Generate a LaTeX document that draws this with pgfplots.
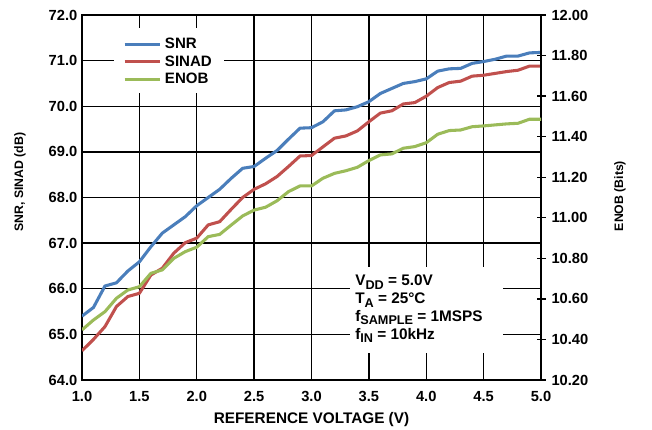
\documentclass[border=0pt]{standalone}
\usepackage{fontspec}
\setmainfont{Liberation Sans}
\usepackage{pgfplots}
\usepackage{pgfplotstable}
\pgfplotsset{compat=1.18}

\definecolor{snrblue}{RGB}{74,126,187}
\definecolor{sinadred}{RGB}{192,80,77}
\definecolor{enobgreen}{RGB}{155,187,89}

% lowered, smaller subscript in the text font
\newcommand\sub[1]{\raisebox{-0.45ex}{\fontsize{9.5}{9.5}\selectfont #1}}

% SNR and SINAD (dB) against reference voltage (V)
\pgfplotstableread{
v   snr   sinad
1.0 65.40 64.64
1.1 65.59 64.89
1.2 66.06 65.17
1.3 66.13 65.61
1.4 66.39 65.83
1.5 66.59 65.90
1.6 66.92 66.30
1.7 67.22 66.45
1.8 67.40 66.78
1.9 67.58 67.01
2.0 67.82 67.11
2.1 68.00 67.40
2.2 68.18 67.47
2.3 68.42 67.74
2.4 68.64 68.00
2.5 68.68 68.18
2.6 68.86 68.30
2.7 69.03 68.46
2.8 69.28 68.68
2.9 69.52 68.91
3.0 69.53 68.92
3.1 69.66 69.11
3.2 69.90 69.30
3.3 69.92 69.35
3.4 69.99 69.46
3.5 70.10 69.66
3.6 70.28 69.85
3.7 70.39 69.90
3.8 70.50 70.05
3.9 70.54 70.08
4.0 70.60 70.22
4.1 70.77 70.41
4.2 70.82 70.52
4.3 70.83 70.55
4.4 70.94 70.66
4.5 70.98 70.68
4.6 71.03 70.72
4.7 71.10 70.76
4.8 71.10 70.79
4.9 71.17 70.88
5.0 71.18 70.88
}\dbdata

% ENOB (bits) against reference voltage (V)
\pgfplotstableread{
v   enob
1.0 10.447
1.1 10.496
1.2 10.537
1.3 10.603
1.4 10.644
1.5 10.660
1.6 10.726
1.7 10.743
1.8 10.800
1.9 10.833
2.0 10.855
2.1 10.907
2.2 10.918
2.3 10.964
2.4 11.009
2.5 11.038
2.6 11.052
2.7 11.084
2.8 11.129
2.9 11.157
3.0 11.157
3.1 11.195
3.2 11.219
3.3 11.232
3.4 11.249
3.5 11.282
3.6 11.310
3.7 11.315
3.8 11.343
3.9 11.351
4.0 11.370
4.1 11.412
4.2 11.430
4.3 11.433
4.4 11.449
4.5 11.453
4.6 11.458
4.7 11.463
4.8 11.466
4.9 11.486
5.0 11.486
}\enobdata

\pgfplotsset{
  refbase/.style={
    scale only axis, width=344.25pt, height=273.75pt,
    at={(0,0)}, anchor=south west,
    xmin=1, xmax=5,
    /pgf/number format/assume math mode=true,
    ticklabel style={font=\fontsize{11}{13}\selectfont\bfseries},
    label style={font=\fontsize{9.2}{11}\selectfont\bfseries},
    axis line style={line width=1.5pt},
  },
  curve/.style={line width=2.3pt, line join=round, mark=none},
}

\begin{document}
\begin{tikzpicture}
\useasboundingbox (-61.5pt,-36.75pt) rectangle (427.5pt,285pt);

% left axis: SNR and SINAD
\begin{axis}[refbase,
  ymin=64, ymax=72, ytick={64,65,...,72},
  xtick={1,1.5,2,2.5,3,3.5,4,4.5,5},
  grid=major, major grid style={black, line width=0.95pt},
  major tick length=0pt,
  xticklabel style={yshift=-5.25pt, /pgf/number format/.cd, fixed, fixed zerofill, precision=1},
  yticklabel style={/pgf/number format/.cd, fixed, fixed zerofill, precision=1},
  xlabel={REFERENCE VOLTAGE (V)},
  ylabel={SNR, SINAD (dB)},
  xlabel style={at={(axis description cs:0.5,-0.107)}, anchor=center,
                font=\fontsize{11.5}{13}\selectfont\bfseries},
  ylabel style={at={(axis description cs:-0.135,0.542)}, anchor=center, rotate=0},
]
\addplot[curve, snrblue] table[x=v, y=snr] {\dbdata};
\addplot[curve, sinadred] table[x=v, y=sinad] {\dbdata};
\end{axis}

% right axis: ENOB
\begin{axis}[refbase,
  axis x line=none, axis y line*=right,
  ymin=10.2, ymax=12.0,
  ytick={10.2,10.4,10.6,10.8,11.0,11.2,11.4,11.6,11.8,12.0},
  yticklabel style={xshift=1pt, /pgf/number format/.cd, fixed, fixed zerofill, precision=2},
  tick align=center, major tick length=6.75pt,
  ytick style={black, line width=0.95pt},
  ylabel={ENOB (Bits)},
  ylabel style={at={(axis description cs:1.172,0.504)}, anchor=center, rotate=0},
  legend cell align=left,
  legend image code/.code={\draw[#1] (0pt,0pt) -- (26.7pt,0pt);},
  legend style={at={(rel axis cs:0.0887,0.937)}, anchor=north west,
    draw=none, fill=none, inner sep=0pt, row sep=3.6pt,
    font=\fontsize{11.3}{13}\selectfont\bfseries,
    nodes={inner sep=0pt, inner xsep=2.5pt}},
]
% white panels under the legend and the test conditions
\fill[white] (rel axis cs:0.0697,0.787) rectangle (rel axis cs:0.3094,0.9636);
\fill[white] (rel axis cs:0.5839,0.0740) rectangle (rel axis cs:0.9172,0.3096);
\addlegendimage{curve, snrblue}
\addlegendentry{SNR}
\addlegendimage{curve, sinadred}
\addlegendentry{SINAD}
\addplot[curve, enobgreen] table[x=v, y=enob] {\enobdata};
\addlegendentry{ENOB}
\node[anchor=north west, inner sep=0pt, align=left,
      font=\fontsize{11.5}{13.3}\selectfont\bfseries]
  at (rel axis cs:0.5948,0.2880)
  {V\sub{DD} = 5.0V\\T\sub{A} = 25°C\\f\sub{SAMPLE} = 1MSPS\\f\sub{IN} = 10kHz};
\node[rotate=90, anchor=center, font=\fontsize{7.5}{9}\selectfont]
  at (rel axis cs:1.229,0.063) {10891-121};
\end{axis}
\end{tikzpicture}
\end{document}
